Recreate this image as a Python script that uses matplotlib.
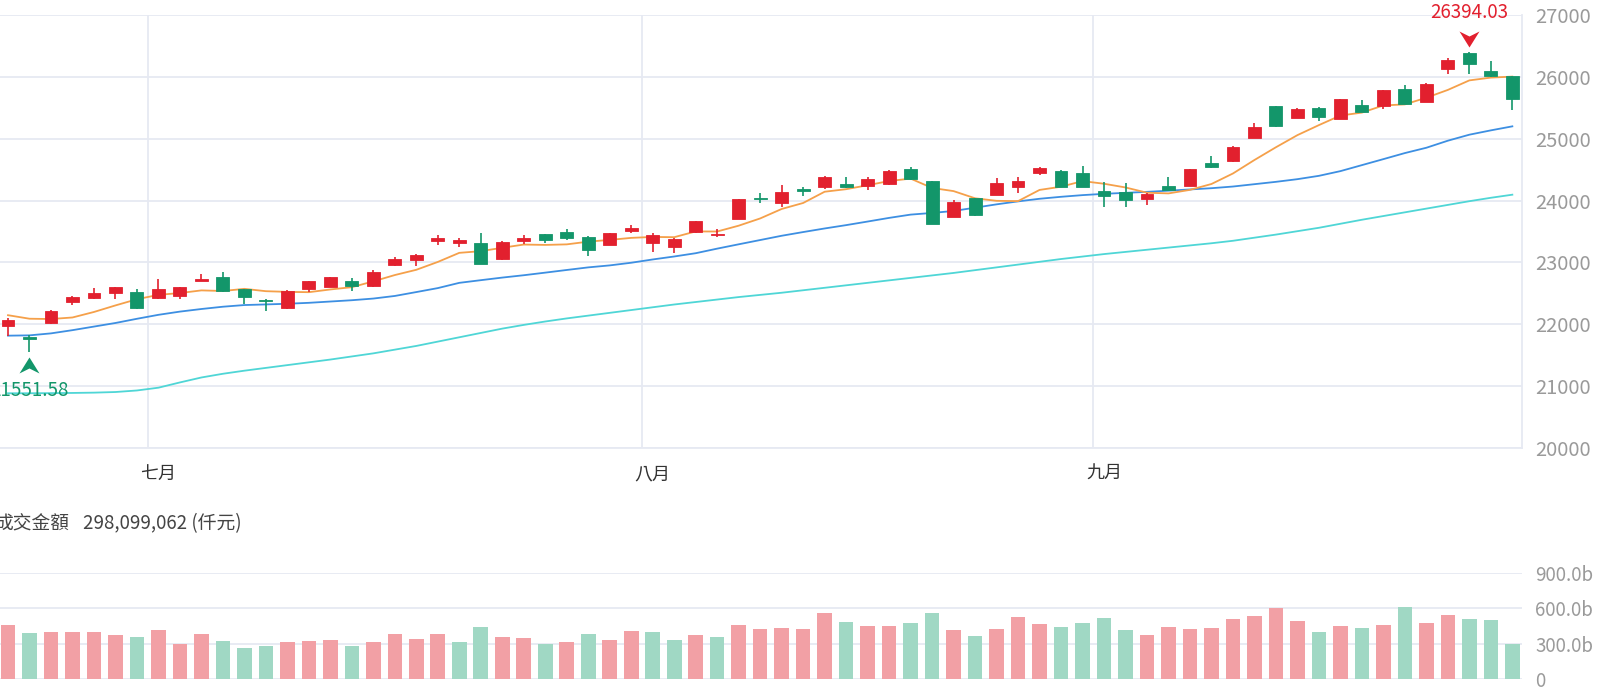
import matplotlib
matplotlib.use('Agg')
import matplotlib.pyplot as plt
from matplotlib.path import Path
from matplotlib.transforms import offset_copy, blended_transform_factory
import numpy as np

plt.rcParams['font.family'] = ['Noto Sans CJK TC', 'DejaVu Sans']

# ---------------- data ----------------
open_ = [21968, 21800, 22016, 22358, 22432, 22511, 22526, 22421, 22458, 22700,
         22763, 22568, 22400, 22263, 22568, 22605, 22695, 22621, 22963, 23043,
         23351, 23314, 23309, 23053, 23351, 23452, 23489, 23415, 23282, 23511,
         23309, 23250, 23489, 23436, 23702, 24040, 23968, 24189, 24216, 24264,
         24243, 24264, 24504, 24317, 23736, 24040, 24093, 24227, 24440, 24477,
         24440, 24157, 24131, 24029, 24237, 24243, 24611, 24638, 25016, 25524,
         25341, 25503, 25324, 25551, 25524, 25811, 25595, 26119, 26380, 26092,
         26011]
high = [22105, 21830, 22230, 22460, 22589, 22600, 22563, 22737, 22600, 22816,
        22842, 22575, 22405, 22550, 22705, 22770, 22747, 22879, 23080, 23140,
        23436, 23399, 23479, 23340, 23436, 23460, 23548, 23420, 23480, 23612,
        23479, 23390, 23675, 23543, 24030, 24117, 24250, 24227, 24390, 24376,
        24376, 24500, 24547, 24320, 24013, 24045, 24360, 24376, 24540, 24490,
        24563, 24307, 24291, 24115, 24376, 24510, 24719, 24875, 25259, 25530,
        25490, 25510, 25645, 25632, 25790, 25865, 25900, 26308, 26394.03, 26254,
        26015]
low = [21816, 21551.58, 22000, 22305, 22411, 22405, 22255, 22410, 22405, 22695,
       22516, 22326, 22210, 22247, 22526, 22600, 22537, 22610, 22940, 22936,
       23287, 23250, 22970, 23045, 23298, 23309, 23356, 23106, 23275, 23468,
       23176, 23160, 23480, 23415, 23695, 23968, 23894, 24077, 24195, 24200,
       24163, 24255, 24335, 23620, 23730, 23755, 24085, 24120, 24413, 24220,
       24215, 23891, 23896, 23923, 24165, 24235, 24530, 24630, 25010, 25190,
       25335, 25286, 25318, 25425, 25486, 25560, 25590, 26043, 26054, 26005,
       25470]
close = [22068, 21760, 22211, 22447, 22511, 22595, 22263, 22563, 22595, 22726,
         22542, 22437, 22374, 22542, 22700, 22763, 22621, 22842, 23053, 23128,
         23394, 23356, 22979, 23330, 23388, 23362, 23399, 23202, 23468, 23553,
         23436, 23383, 23665, 23463, 24021, 24025, 24144, 24150, 24376, 24227,
         24344, 24483, 24344, 23624, 23971, 23763, 24280, 24317, 24531, 24227,
         24220, 24067, 24013, 24109, 24173, 24504, 24541, 24865, 25195, 25205,
         25486, 25351, 25638, 25432, 25784, 25568, 25892, 26270, 26200, 26011,
         25649]
ma5 = [22147, 22090, 22085, 22110, 22199, 22305, 22405, 22476, 22505, 22548,
       22538, 22573, 22535, 22524, 22519, 22563, 22600, 22694, 22796, 22881,
       23008, 23155, 23182, 23237, 23289, 23283, 23292, 23336, 23364, 23397,
       23412, 23408, 23501, 23500, 23594, 23711, 23864, 23961, 24143, 24184,
       24248, 24316, 24355, 24204, 24153, 24037, 23996, 23991, 24172, 24224,
       24315, 24272, 24212, 24127, 24116, 24173, 24268, 24438, 24656, 24862,
       25058, 25220, 25375, 25422, 25538, 25555, 25663, 25789, 25943, 25988,
       26004]
ma20 = [21816, 21821, 21853, 21905, 21963, 22021, 22089, 22153, 22205, 22247,
        22284, 22311, 22321, 22332, 22347, 22368, 22389, 22416, 22458, 22521,
        22585, 22670, 22713, 22755, 22793, 22835, 22878, 22920, 22952, 22995,
        23048, 23096, 23149, 23223, 23293, 23362, 23431, 23491, 23549, 23603,
        23661, 23720, 23773, 23800, 23832, 23885, 23939, 23987, 24029, 24061,
        24088, 24109, 24125, 24141, 24160, 24180, 24200, 24227, 24265, 24303,
        24346, 24400, 24476, 24573, 24670, 24768, 24854, 24968, 25065, 25135,
        25200]
ma60 = [20885, 20885, 20887, 20890, 20895, 20905, 20930, 20975, 21060, 21140,
        21200, 21250, 21295, 21340, 21385, 21430, 21480, 21530, 21590, 21650,
        21720, 21790, 21860, 21930, 21990, 22045, 22095, 22140, 22185, 22230,
        22275, 22320, 22360, 22400, 22440, 22475, 22510, 22550, 22590, 22630,
        22670, 22710, 22750, 22790, 22830, 22875, 22920, 22965, 23010, 23055,
        23095, 23135, 23170, 23205, 23240, 23275, 23310, 23350, 23400, 23450,
        23505, 23560, 23625, 23690, 23750, 23810, 23870, 23930, 23990, 24045,
        24095]
volume_b = [458, 389, 395, 395, 395, 370, 359, 417, 300, 381,
            325, 264, 278, 317, 325, 334, 278, 317, 386, 339,
            378, 314, 442, 356, 345, 300, 317, 384, 331, 406,
            398, 334, 375, 353, 461, 425, 431, 423, 564, 481,
            448, 450, 473, 564, 414, 364, 425, 528, 464, 442,
            473, 514, 414, 370, 445, 423, 436, 506, 534, 600,
            489, 403, 450, 434, 461, 611, 475, 542, 509, 498,
            298.1]
month_labels = ['七月', '八月', '九月']
month_start_idx = [7, 30, 51]
price_ticks = [20000, 21000, 22000, 23000, 24000, 25000, 26000, 27000]
vol_ticks = [0, 300, 600, 900]
vol_tick_labels = ['0', '300.0b', '600.0b', '900.0b']
vol_title = '成交金額'
vol_value_text = '298,099,062 (仟元)'

# ---------------- styles ----------------
RED = '#e2202e'
GREEN = '#13966a'
VRED = '#f2a0a5'
VGREEN = '#a0d8c4'
ORANGE = '#f5a04a'
BLUE = '#3d8fe2'
CYAN = '#4fd6d6'
GRID = '#e6e9f2'
TICK = '#9a9a9a'

o = np.array(open_, float); h = np.array(high, float)
l = np.array(low, float); c = np.array(close, float)
x = np.arange(len(c))

fig = plt.figure(figsize=(16, 7), dpi=100)
ax = fig.add_axes([0, 252 / 700, 1522 / 1600, 433 / 700])
axv = fig.add_axes([0, 21 / 700, 1522 / 1600, 106 / 700])

xlim = (-0.372, 70.45)

# price panel
ax.set_xlim(*xlim)
ax.set_ylim(price_ticks[0], price_ticks[-1])
ax.set_yticks(price_ticks)
ax.yaxis.tick_right()
ax.tick_params(axis='y', length=0, pad=9.4, labelsize=14.5, labelcolor=TICK)
ax.set_xticks([])
ax.grid(axis='y', color=GRID, lw=1.3, zorder=0)
for s in ['top', 'left']:
    ax.spines[s].set_visible(False)
for s in ['right', 'bottom']:
    ax.spines[s].set_color(GRID)
    ax.spines[s].set_linewidth(1.3)
for mi in month_start_idx:
    ax.axvline(mi - 0.5, color=GRID, lw=1.3, zorder=0)

trans_month = blended_transform_factory(ax.transData, ax.transAxes)
for lab, mi in zip(month_labels, month_start_idx):
    ax.text(mi, -0.06, lab, transform=trans_month, ha='center', va='center',
            fontsize=13, color='#333333')

ax.plot(x, ma60, color=CYAN, lw=1.3, zorder=2)
ax.plot(x, ma20, color=BLUE, lw=1.3, zorder=2)
ax.plot(x, ma5, color=ORANGE, lw=1.3, zorder=2)

ccol = [RED if ci >= oi else GREEN for oi, ci in zip(o, c)]
ax.vlines(x, l, h, colors=ccol, lw=1.2, zorder=3)
ax.bar(x, np.abs(c - o), width=0.6, bottom=np.minimum(o, c), color=ccol,
       edgecolor=ccol, linewidth=0.6, zorder=4)

# high / low markers
up_arrow = Path([(0, 8), (10, -8), (0, -3), (-10, -8), (0, 8)],
                [Path.MOVETO, Path.LINETO, Path.LINETO, Path.LINETO, Path.CLOSEPOLY])
down_arrow = Path([(0, -8), (10, 8), (0, 3), (-10, 8), (0, -8)],
                  [Path.MOVETO, Path.LINETO, Path.LINETO, Path.LINETO, Path.CLOSEPOLY])
hi = int(np.argmax(h)); lo = int(np.argmin(l))
ax.plot(hi, h[hi], marker=down_arrow, ms=14.4, mew=0, color=RED, clip_on=False,
        transform=offset_copy(ax.transData, fig=fig, x=0, y=13, units='dots'), zorder=5)
ax.text(hi, h[hi], f'{h[hi]:.2f}', color=RED, fontsize=13.5, ha='center', va='center',
        transform=offset_copy(ax.transData, fig=fig, x=0, y=40, units='dots'))
ax.plot(lo, l[lo], marker=up_arrow, ms=14.4, mew=0, color=GREEN, clip_on=False,
        transform=offset_copy(ax.transData, fig=fig, x=0, y=-13, units='dots'), zorder=5)
ax.text(lo, l[lo], f'{l[lo]:.2f}', color=GREEN, fontsize=13.5, ha='center', va='center',
        transform=offset_copy(ax.transData, fig=fig, x=0, y=-38, units='dots'))

# volume panel
vcol = [RED if i == 0 and c[0] >= o[0] else None for i in range(len(c))]
vcol = []
for i in range(len(c)):
    ref = o[i] if i == 0 else c[i - 1]
    vcol.append(VRED if c[i] >= ref else VGREEN)
axv.set_xlim(*xlim)
axv.set_ylim(vol_ticks[0], vol_ticks[-1])
axv.set_yticks(vol_ticks)
axv.set_yticklabels(vol_tick_labels)
axv.yaxis.tick_right()
axv.tick_params(axis='y', length=0, pad=9.4, labelsize=13.5, labelcolor=TICK)
axv.set_xticks([])
axv.grid(axis='y', color=GRID, lw=1.3, zorder=0)
for s in axv.spines.values():
    s.set_visible(False)
axv.bar(x, volume_b, width=0.68, color=vcol, zorder=2)

fig.text(69 / 1600, 1 - 524 / 700, vol_title, ha='right', va='center',
         fontsize=13.5, color='#444444')
fig.text(83 / 1600, 1 - 524 / 700, vol_value_text, ha='left', va='center',
         fontsize=13.5, color='#444444')

fig.savefig('out.png', dpi=100)
